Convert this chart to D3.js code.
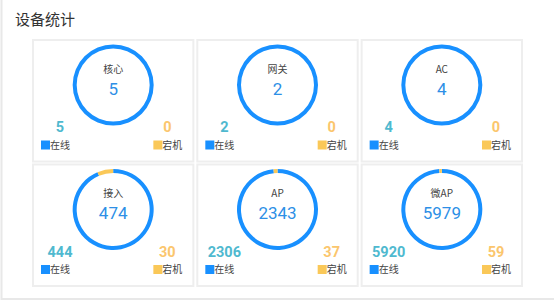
<!DOCTYPE html>
<html>
<head>
<meta charset="utf-8">
<script src="https://cdn.jsdelivr.net/npm/d3@7"></script>
<style>
  body { margin: 0; background: #fff; }
  svg { display: block; font-family: "Noto Sans CJK SC", Roboto, sans-serif; }
</style>
</head>
<body>
<script>
// device groups
const names = ["核心", "网关", "AC", "接入", "AP", "微AP"];
const online = [5, 2, 4, 444, 2306, 5920];
const down = [0, 0, 0, 30, 37, 59];
const legendNames = ["在线", "宕机"];

const width = 554, height = 302;
const blue = "#1890ff", yellow = "#fac858";

const svg = d3.select("body").append("svg")
    .attr("width", width)
    .attr("height", height);

// outer panel
svg.append("rect")
    .attr("x", 1.5).attr("y", -5)
    .attr("width", 600).attr("height", 304)
    .attr("fill", "none")
    .attr("stroke", "#e8e8e8")
    .attr("stroke-width", 2);

svg.append("text")
    .attr("x", 15).attr("y", 25)
    .attr("font-size", 15)
    .attr("fill", "#333")
    .text("设备统计");

// grid of cards
const col = d3.scaleBand().domain([0, 1, 2]).range([32, 523]).paddingInner(0.012);
const row = d3.scaleBand().domain([0, 1]).range([39, 287]).paddingInner(0.008);

const pie = d3.pie().sort(null).value(d => d);
const arc = d3.arc().innerRadius(36.5).outerRadius(40.5);
const color = d3.scaleOrdinal().domain([0, 1]).range([blue, yellow]);

const cards = svg.selectAll("g.card")
    .data(names.map((n, i) => ({ name: n, on: online[i], off: down[i], i })))
    .join("g")
    .attr("class", "card")
    .attr("transform", d => `translate(${col(d.i % 3)},${row(Math.floor(d.i / 3))})`);

cards.append("rect")
    .attr("x", 1).attr("y", 1)
    .attr("width", col.bandwidth() - 2)
    .attr("height", row.bandwidth() - 2)
    .attr("fill", "#fff")
    .attr("stroke", "#eeeeee")
    .attr("stroke-width", 2);

const cx = col.bandwidth() / 2;

const ring = cards.append("g")
    .attr("transform", `translate(${cx},46)`);

ring.selectAll("path")
    .data(d => pie([d.on, d.off]))
    .join("path")
    .attr("d", arc)
    .attr("fill", (d, i) => color(i));

ring.append("text")
    .attr("y", -16)
    .attr("dy", "0.35em")
    .attr("text-anchor", "middle")
    .attr("font-size", 10)
    .attr("fill", "#444")
    .text(d => d.name);

ring.append("text")
    .attr("y", 4)
    .attr("dy", "0.35em")
    .attr("text-anchor", "middle")
    .attr("font-family", "Roboto, sans-serif")
    .attr("font-size", 17)
    .attr("fill", "#2d8fe6")
    .text(d => d.on + d.off);

// bottom counts
cards.append("text")
    .attr("x", 28).attr("y", 88)
    .attr("dy", "0.35em")
    .attr("text-anchor", "middle")
    .attr("font-family", "Roboto, sans-serif")
    .attr("font-weight", "bold")
    .attr("font-size", 14.5)
    .attr("fill", "#4fb9cf")
    .text(d => d.on);

cards.append("text")
    .attr("x", col.bandwidth() - 27).attr("y", 88)
    .attr("dy", "0.35em")
    .attr("text-anchor", "middle")
    .attr("font-family", "Roboto, sans-serif")
    .attr("font-weight", "bold")
    .attr("font-size", 14.5)
    .attr("fill", "#fbc66d")
    .text(d => d.off);

// legends
const legX = [9, col.bandwidth() - 41];
legendNames.forEach((ln, k) => {
    const g = cards.append("g").attr("transform", `translate(${legX[k]},106)`);
    g.append("rect")
        .attr("x", 0).attr("y", -4.5)
        .attr("width", 9).attr("height", 9)
        .attr("fill", color(k));
    g.append("text")
        .attr("x", 9)
        .attr("dy", "0.35em")
        .attr("font-size", 10)
        .attr("fill", "#444")
        .text(ln);
});
</script>
</body>
</html>
